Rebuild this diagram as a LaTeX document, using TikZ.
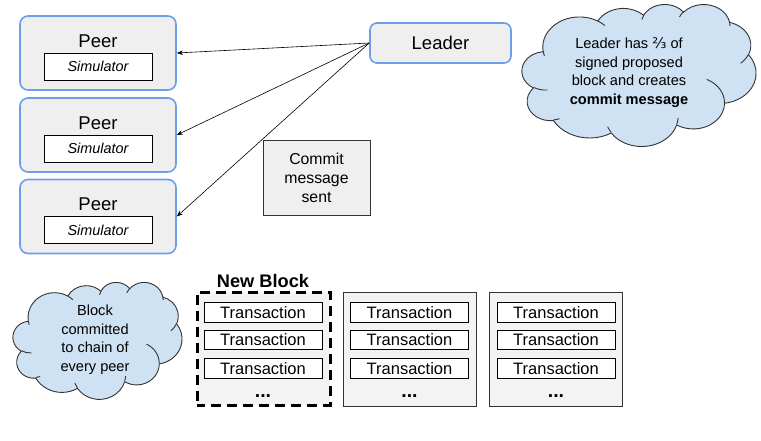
\documentclass[tikz,border=0pt]{standalone}
\usepackage{fontspec}
\setmainfont{Liberation Sans}
\newfontfamily\fracfont{DejaVu Sans}
\usetikzlibrary{arrows.meta}
\definecolor{peerblue}{HTML}{6D9EEB}
\definecolor{boxgray}{HTML}{EFEFEF}
\definecolor{blockgray}{HTML}{F3F3F3}
\definecolor{cloudblue}{HTML}{CFE2F3}
\definecolor{edgegray}{HTML}{333333}
% one OOXML-style arcTo: wR, hR, visual start angle, sweep (degrees)
\newcommand\carc[4]{\pgfextra{%
  \pgfmathparse{atan2((#1)*sin(#3),(#2)*cos(#3))}\xdef\cts{\pgfmathresult}%
  \pgfmathparse{atan2((#1)*sin((#3)+(#4)),(#2)*cos((#3)+(#4)))}\xdef\cte{\pgfmathresult}%
  \pgfmathparse{\cte-\cts}\xdef\cdl{\pgfmathresult}%
  \pgfmathparse{\cdl<0 ? \cdl+360 : \cdl}\xdef\cdl{\pgfmathresult}%
  } arc[start angle=\cts, delta angle=\cdl, x radius=#1, y radius=#2]}
\newcommand\drawcloud[4]{%
  \pgfmathsetmacro\cwx{#3/432}\pgfmathsetmacro\cwy{#4/432}%
  \begin{scope}[shift={(#1,#2)}, x=\cwx pt, y=-\cwy pt]
  \draw[cloudedge, fill=cloudblue] (39.00,143.70)
    \carc{67.53}{91.90}{-190.4875}{123.7805}
    \carc{53.33}{72.67}{-144.1024}{89.9452}
    \carc{43.65}{59.45}{-145.8079}{99.7230}
    \carc{48.57}{65.95}{-130.9861}{117.2417}
    \carc{53.33}{72.73}{-78.7089}{109.0269}
    \carc{67.75}{92.20}{-46.2673}{130.2690}
    \carc{57.85}{78.67}{0.6250}{114.0333}
    \carc{67.52}{92.15}{22.4516}{115.1726}
    \carc{77.20}{105.43}{66.2426}{75.7110}
    \carc{43.60}{59.18}{-274.9421}{146.7356}
    \carc{43.45}{59.45}{-246.8285}{152.5189} -- cycle;
  \draw[cloudedge]
    (46.93,261.77) \carc{43.45}{59.45}{86.742}{26.4295}
    (69.28,348.99) \carc{43.60}{59.18}{73.6105}{11.4475}
    (164.78,390.90) \carc{67.52}{92.15}{137.6242}{14.0811}
    (288.27,347.51) \carc{67.52}{92.15}{6.4533}{15.9984}
    (341.29,229.54) \carc{57.85}{78.67}{-70.2924}{70.9174}
    (417.98,153.54) \carc{53.33}{72.73}{30.3180}{27.7515}
    (383.24,54.26) \carc{48.57}{65.95}{-13.7443}{14.8589}
    (290.78,39.52) \carc{48.57}{65.95}{-149.1815}{18.1954}
    (221.41,47.20) \carc{43.65}{59.45}{-163.4943}{17.6864}
    (140.00,51.92) \carc{67.53}{91.90}{-66.7070}{12.3194}
    (41.27,157.89) \carc{67.53}{91.90}{157.6544}{11.8582};
  \end{scope}}
\tikzset{
  cloudedge/.style={draw=edgegray, line width=0.9pt, line join=round},
  peerbox/.style={draw=peerblue, fill=boxgray, line width=1.6pt, rounded corners=8pt,
    minimum width=156pt, minimum height=74pt, inner sep=0pt},
  leaderbox/.style={draw=peerblue, fill=boxgray, line width=1.6pt, rounded corners=7pt,
    minimum width=141pt, minimum height=40pt, inner sep=0pt,
    font=\fontsize{18.5}{22}\selectfont},
  peertitle/.style={inner sep=0pt, font=\fontsize{18.5}{22}\selectfont},
  simbox/.style={draw=black, fill=white, line width=0.8pt, minimum width=108pt,
    minimum height=27pt, inner sep=0pt, font=\fontsize{14.4}{17}\selectfont\itshape},
  notebox/.style={draw=edgegray, fill=boxgray, line width=0.8pt, minimum width=107pt,
    minimum height=75pt, inner sep=0pt, align=center, font=\fontsize{15.8}{19}\selectfont},
  cloudtext/.style={inner sep=0pt, align=center, font=\fontsize{14.6}{18.5}\selectfont},
  blockbox/.style={draw=edgegray, fill=blockgray, line width=0.8pt, minimum width=133pt,
    minimum height=114pt, inner sep=0pt},
  newblockbox/.style={draw=black, fill=blockgray, line width=3pt,
    dash pattern=on 10pt off 6pt, dash phase=2pt, minimum width=133pt, minimum height=113pt, inner sep=0pt},
  txbox/.style={draw=black, fill=white, line width=0.8pt, minimum width=118pt,
    minimum height=19.5pt, inner sep=0pt, font=\fontsize{16.5}{19}\selectfont},
  dots/.style={inner sep=0pt, anchor=base, font=\fontsize{19.5}{22}\selectfont\bfseries},
  msg/.style={line width=0.6pt, -{Stealth[length=6pt,width=4.5pt]}}
}
\begin{document}
\begin{tikzpicture}[x=1pt, y=-1pt]
\useasboundingbox[fill=white] (0,0) rectangle (761,441);
% peers
\node[peerbox] (p1) at (98,53) {};
\node[peerbox] (p2) at (98,135) {};
\node[peerbox] (p3) at (98,216.5) {};
\node[peertitle] (p1t) at (98,41) {Peer};
\node[peertitle] (p2t) at (98,123) {Peer};
\node[peertitle] (p3t) at (98,204) {Peer};
\node[simbox] (s1) at (98,66.5) {Simulator};
\node[simbox] (s2) at (98,148.5) {Simulator};
\node[simbox] (s3) at (98,230) {Simulator};
% leader
\node[leaderbox] (leader) at (440.5,43) {Leader};
\draw[msg] (leader.west) -- (p1.east);
\draw[msg] (leader.west) -- (p2.east);
\draw[msg] (leader.west) -- (p3.east);
% commit message note
\node[notebox] (note) at (316.5,177.5) {Commit\\message\\sent};
% clouds
\drawcloud{522}{4}{234}{142}
\node[cloudtext] (c1) at (629,72.5) {Leader has {\fracfont ⅔} of\\signed proposed\\block and creates\\\textbf{commit message}};
\drawcloud{13}{282}{169}{117}
\node[cloudtext] (c2) at (95,339.5) {Block\\committed\\to chain of\\every peer};
% blocks
\node[inner sep=0pt, font=\fontsize{18.2}{22}\selectfont\bfseries] (nbl) at (263,281) {New Block};
\node[newblockbox] (b1) at (263.5,348.5) {};
\node[blockbox] (b2) at (409.5,349) {};
\node[blockbox] (b3) at (555.5,349) {};
\foreach \bx/\bn in {263/1, 409.5/2, 556/3}{
  \node[txbox] (t\bn a) at (\bx,312.5) {Transaction};
  \node[txbox] (t\bn b) at (\bx,340) {Transaction};
  \node[txbox] (t\bn c) at (\bx,368.5) {Transaction};
  \node[dots] (d\bn) at (\bx,397) {...};
}
\end{tikzpicture}
\end{document}
